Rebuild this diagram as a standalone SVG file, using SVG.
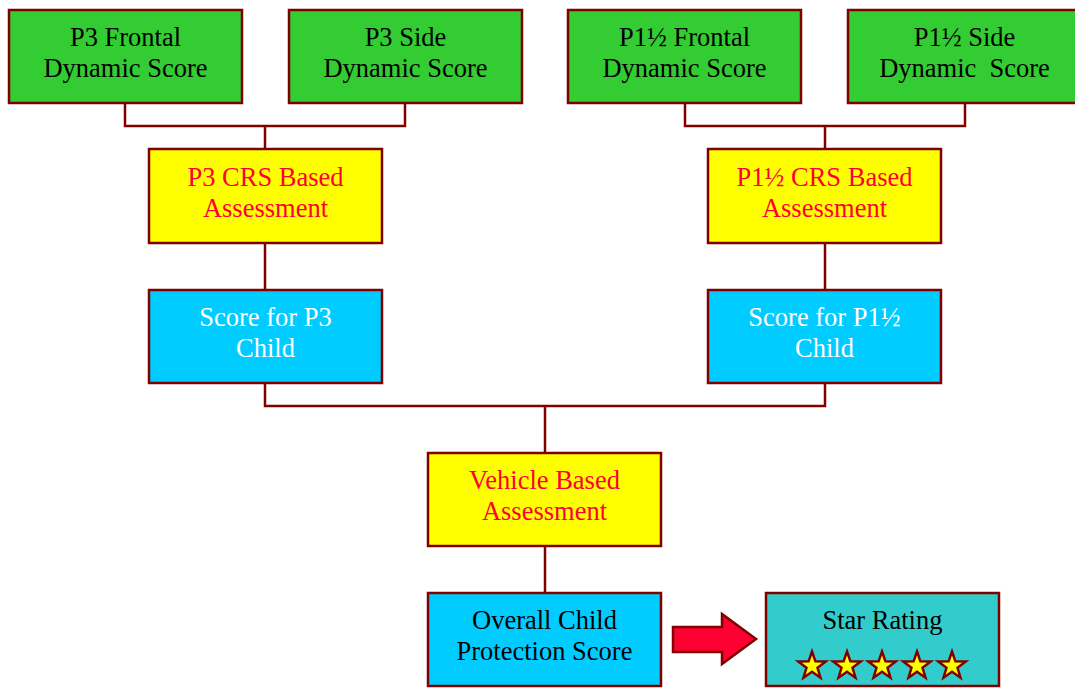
<svg xmlns="http://www.w3.org/2000/svg" width="1075" height="688" viewBox="0 0 1075 688">
<style>
.box{stroke:#800000;stroke-width:2.5}
.g{fill:#33CC33}.y{fill:#FFFF00}.c{fill:#00CCFF}.t{fill:#33CCCC}
text{font-family:"Liberation Serif","Times New Roman",serif;font-size:26.5px;text-anchor:middle;white-space:pre}
.k{fill:#000}.r{fill:#FF0033}.w{fill:#FFFFFF}
.conn{fill:none;stroke:#800000;stroke-width:2.5}
.star{fill:#FFFF00;stroke:#800000;stroke-width:2.5;stroke-linejoin:miter}
</style>
<defs>
<polygon id="star" class="star" points="0,-14.5 3.4,-4.7 13.8,-4.5 5.5,1.8 8.5,11.7 0,5.8 -8.5,11.7 -5.5,1.8 -13.8,-4.5 -3.4,-4.7"/>
</defs>
<g id="connectors">
<path class="conn" d="M125,103V126H405V103M265,126V149"/>
<path class="conn" d="M685,103V126H965V103M825,126V149"/>
<path class="conn" d="M265,243V290"/>
<path class="conn" d="M825,243V290"/>
<path class="conn" d="M265,383V406H825V383M545,406V453"/>
<path class="conn" d="M545,546V593"/>
<polygon id="arrow" points="673,627 722,627 722,614 756,639 722,664 722,652 673,652" fill="#FF0033" stroke="#800000" stroke-width="2.5"/>
</g>
<g id="p3frontal"><rect class="box g" x="9" y="10" width="233" height="93"/><text class="k" x="125.5" y="46">P3 Frontal</text><text class="k" x="125.5" y="77">Dynamic Score</text></g>
<g id="p3side"><rect class="box g" x="289" y="10" width="233" height="93"/><text class="k" x="405.5" y="46">P3 Side</text><text class="k" x="405.5" y="77">Dynamic Score</text></g>
<g id="p15frontal"><rect class="box g" x="568" y="10" width="233" height="93"/><text class="k" x="684.5" y="46">P1½ Frontal</text><text class="k" x="684.5" y="77">Dynamic Score</text></g>
<g id="p15side"><rect class="box g" x="848" y="10" width="233" height="93"/><text class="k" x="964.5" y="46">P1½ Side</text><text class="k" x="964.5" y="77" xml:space="preserve">Dynamic  Score</text></g>
<g id="p3crs"><rect class="box y" x="149" y="149" width="233" height="94"/><text class="r" x="265.5" y="186">P3 CRS Based</text><text class="r" x="265.5" y="217">Assessment</text></g>
<g id="p15crs"><rect class="box y" x="708" y="149" width="233" height="94"/><text class="r" x="824.5" y="186">P1½ CRS Based</text><text class="r" x="824.5" y="217">Assessment</text></g>
<g id="p3score"><rect class="box c" x="149" y="290" width="233" height="93"/><text class="w" x="265.5" y="326">Score for P3</text><text class="w" x="265.5" y="357">Child</text></g>
<g id="p15score"><rect class="box c" x="708" y="290" width="233" height="93"/><text class="w" x="824.5" y="326">Score for P1½</text><text class="w" x="824.5" y="357">Child</text></g>
<g id="vehicle"><rect class="box y" x="428" y="453" width="233" height="93"/><text class="r" x="544.5" y="489">Vehicle Based</text><text class="r" x="544.5" y="520">Assessment</text></g>
<g id="overall"><rect class="box c" x="428" y="593" width="233" height="93"/><text class="k" x="544.5" y="629">Overall Child</text><text class="k" x="544.5" y="660">Protection Score</text></g>
<g id="starrating"><rect class="box t" x="766" y="593" width="233" height="93"/><text class="k" x="882.5" y="629">Star Rating</text>
<use href="#star" x="812" y="666"/><use href="#star" x="847" y="666"/><use href="#star" x="882" y="666"/><use href="#star" x="917" y="666"/><use href="#star" x="952" y="666"/></g>
</svg>
